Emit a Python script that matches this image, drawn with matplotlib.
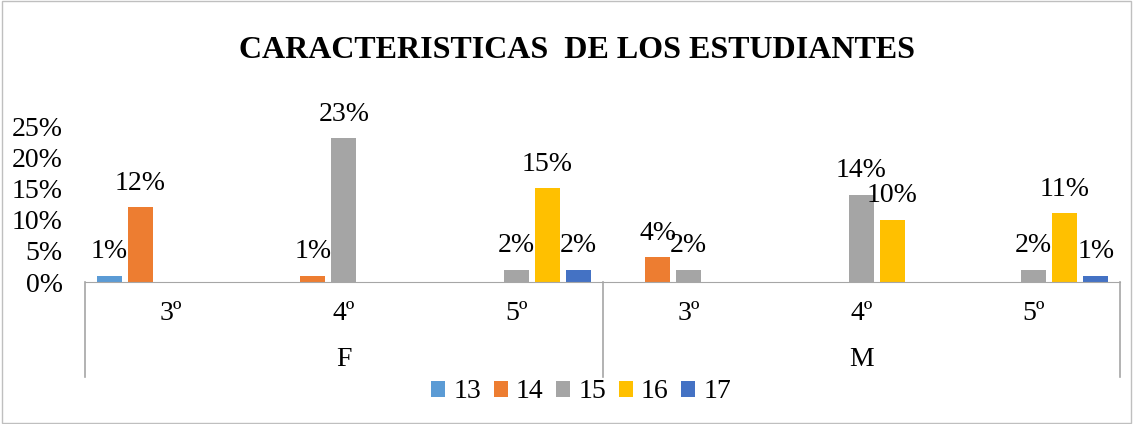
import matplotlib.pyplot as plt
from matplotlib.patches import Rectangle
import numpy as np

plt.rcParams['font.family'] = ['Liberation Serif', 'DejaVu Serif']

grupos = ["F", "M"]
grados = ["3º", "4º", "5º", "3º", "4º", "5º"]
edades = ["13", "14", "15", "16", "17"]
colores = ["#5B9BD5", "#ED7D31", "#A5A5A5", "#FFC000", "#4472C4"]

# porcentajes por edad, en el orden de grados (F 3º,4º,5º, M 3º,4º,5º)
edad_13 = [0.01, 0, 0, 0, 0, 0]
edad_14 = [0.12, 0.01, 0, 0.04, 0, 0]
edad_15 = [0, 0.23, 0.02, 0.02, 0.14, 0.02]
edad_16 = [0, 0, 0.15, 0, 0.10, 0.11]
edad_17 = [0, 0, 0.02, 0, 0, 0.01]
series = [edad_13, edad_14, edad_15, edad_16, edad_17]

fs = 20

fig = plt.figure(figsize=(11.33, 4.24), dpi=100)
ax = fig.add_axes([85/1133, 1-282/424, (1120-85)/1133, (282-126)/424])

x = np.arange(len(grados))
paso = 0.18
ancho = 0.145
for j, (vals, c, lab) in enumerate(zip(series, colores, edades)):
    pos = x + (j - 2) * paso
    ax.bar(pos, vals, width=ancho, color=c, label=lab)
    for p, v in zip(pos, vals):
        if v > 0:
            ax.annotate(f"{v*100:.0f}%", (p, v), xytext=(0, 12.5), textcoords="offset points",
                        ha="center", va="baseline", fontsize=fs, annotation_clip=False)

ax.set_xlim(-0.5, len(grados) - 0.5)
ax.set_ylim(0, 0.25)
ax.set_yticks([0, 0.05, 0.10, 0.15, 0.20, 0.25])
ax.set_yticklabels(["0%", "5%", "10%", "15%", "20%", "25%"], fontsize=fs)
ax.tick_params(axis="y", length=0, pad=16)
ax.set_xticks([])
for s in ["top", "right", "left"]:
    ax.spines[s].set_visible(False)
ax.spines["bottom"].set_color("#A6A6A6")

# etiquetas de categorias en dos niveles
for i, g in enumerate(grados):
    ax.text(i, -0.2, g, ha="center", va="center", fontsize=fs,
            transform=ax.get_xaxis_transform())
for k, g in enumerate(grupos):
    ax.text(1 + 3*k, -0.5, g, ha="center", va="center", fontsize=fs,
            transform=ax.get_xaxis_transform())
for xs in [-0.5, 2.5, 5.5]:
    ax.plot([xs, xs], [0, -0.61], color="#A6A6A6", lw=1.2,
            transform=ax.get_xaxis_transform(), clip_on=False)

fig.text(577/1133, 1-50/424, "CARACTERISTICAS  DE LOS ESTUDIANTES", ha="center", va="center",
         fontsize=23, fontweight="bold")

fig.legend(loc="center", bbox_to_anchor=(0.513, 1-392/424), ncol=5, frameon=False,
           fontsize=fs, handlelength=0.5, handleheight=0.5, handletextpad=0.3,
           columnspacing=0.45)

fig.patches.append(Rectangle((0.002, 0.003), 0.996, 0.994, transform=fig.transFigure,
                             fill=False, edgecolor="#BFBFBF", lw=1))

fig.savefig("out.png", dpi=100)
